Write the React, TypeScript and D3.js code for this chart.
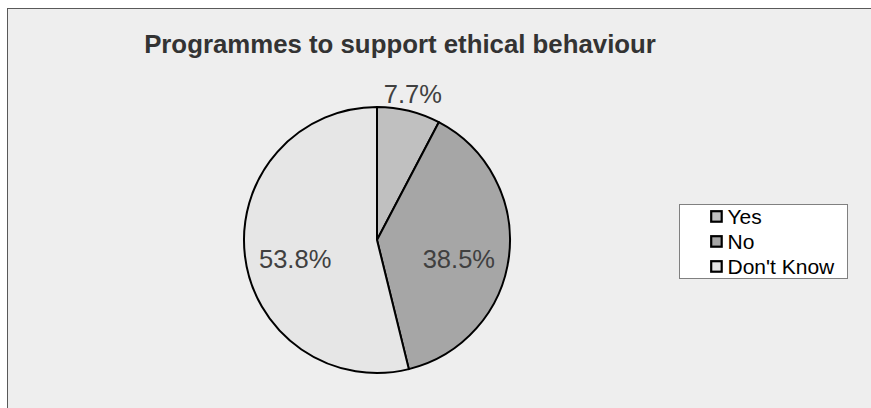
import React from "react";
import * as d3 from "d3";

const categories = ["Yes", "No", "Don't Know"];
const counts = [1, 5, 7];
const colors = ["#c0c0c0", "#a6a6a6", "#e6e6e6"];
const title = "Programmes to support ethical behaviour";

const W = 871;
const H = 408;
const FONT = "'Liberation Sans', Arial, sans-serif";

export default function App() {
  const cx = 377;
  const cy = 240;
  const r = 133;
  const total = d3.sum(counts);
  const pie = d3.pie<number>().sort(null).value((d) => d);
  const arcs = pie(counts);
  const arcGen = d3.arc<d3.PieArcDatum<number>>().innerRadius(0).outerRadius(r);
  const fmt = (v: number) => ((v / total) * 100).toFixed(1) + "%";

  const labelPos = (a: d3.PieArcDatum<number>) => {
    const frac = (a.endAngle - a.startAngle) / (2 * Math.PI);
    const mid = (a.startAngle + a.endAngle) / 2;
    if (frac < 0.1) {
      const R = r + 17;
      return [R * Math.sin(mid), -R * Math.cos(mid) + 9];
    }
    const R = r * 0.62;
    return [R * Math.sin(mid), -R * Math.cos(mid) + 18];
  };

  const legX = 679;
  const legY = 204;
  const rowH = 25;

  return (
    <svg
      width={W}
      height={H}
      style={{ position: "absolute", left: 0, top: 0, display: "block" }}
    >
      <rect x={0} y={0} width={W} height={H} fill="#ffffff" />
      <rect
        x={7.5}
        y={8.5}
        width={W + 20}
        height={H + 20}
        fill="#eeeeee"
        stroke="#595959"
        strokeWidth={1}
      />
      <text
        x={400}
        y={53}
        textAnchor="middle"
        fontFamily={FONT}
        fontWeight="bold"
        fontSize={25.8}
        fill="#333333"
      >
        {title}
      </text>
      <g transform={`translate(${cx},${cy})`}>
        {arcs.map((a, i) => (
          <path
            key={i}
            d={arcGen(a) || ""}
            fill={colors[i]}
            stroke="#000000"
            strokeWidth={2}
            strokeLinejoin="round"
          />
        ))}
        {arcs.map((a, i) => {
          const [x, y] = labelPos(a);
          return (
            <text
              key={"l" + i}
              x={x}
              y={y}
              textAnchor="middle"
              fontFamily={FONT}
              fontSize={25.5}
              fill="#404040"
            >
              {fmt(a.data)}
            </text>
          );
        })}
      </g>
      <rect
        x={legX + 0.5}
        y={legY + 0.5}
        width={168}
        height={74}
        fill="#ffffff"
        stroke="#808080"
        strokeWidth={1}
      />
      {categories.map((c, i) => (
        <g key={c} transform={`translate(${legX},${legY + 20 + i * rowH})`}>
          <rect
            x={32.2}
            y={-12.8}
            width={10.5}
            height={10.5}
            fill={colors[i]}
            stroke="#000000"
            strokeWidth={2.2}
          />
          <text x={48.5} y={0} fontFamily={FONT} fontSize={21} fill="#000000">
            {c}
          </text>
        </g>
      ))}
    </svg>
  );
}
